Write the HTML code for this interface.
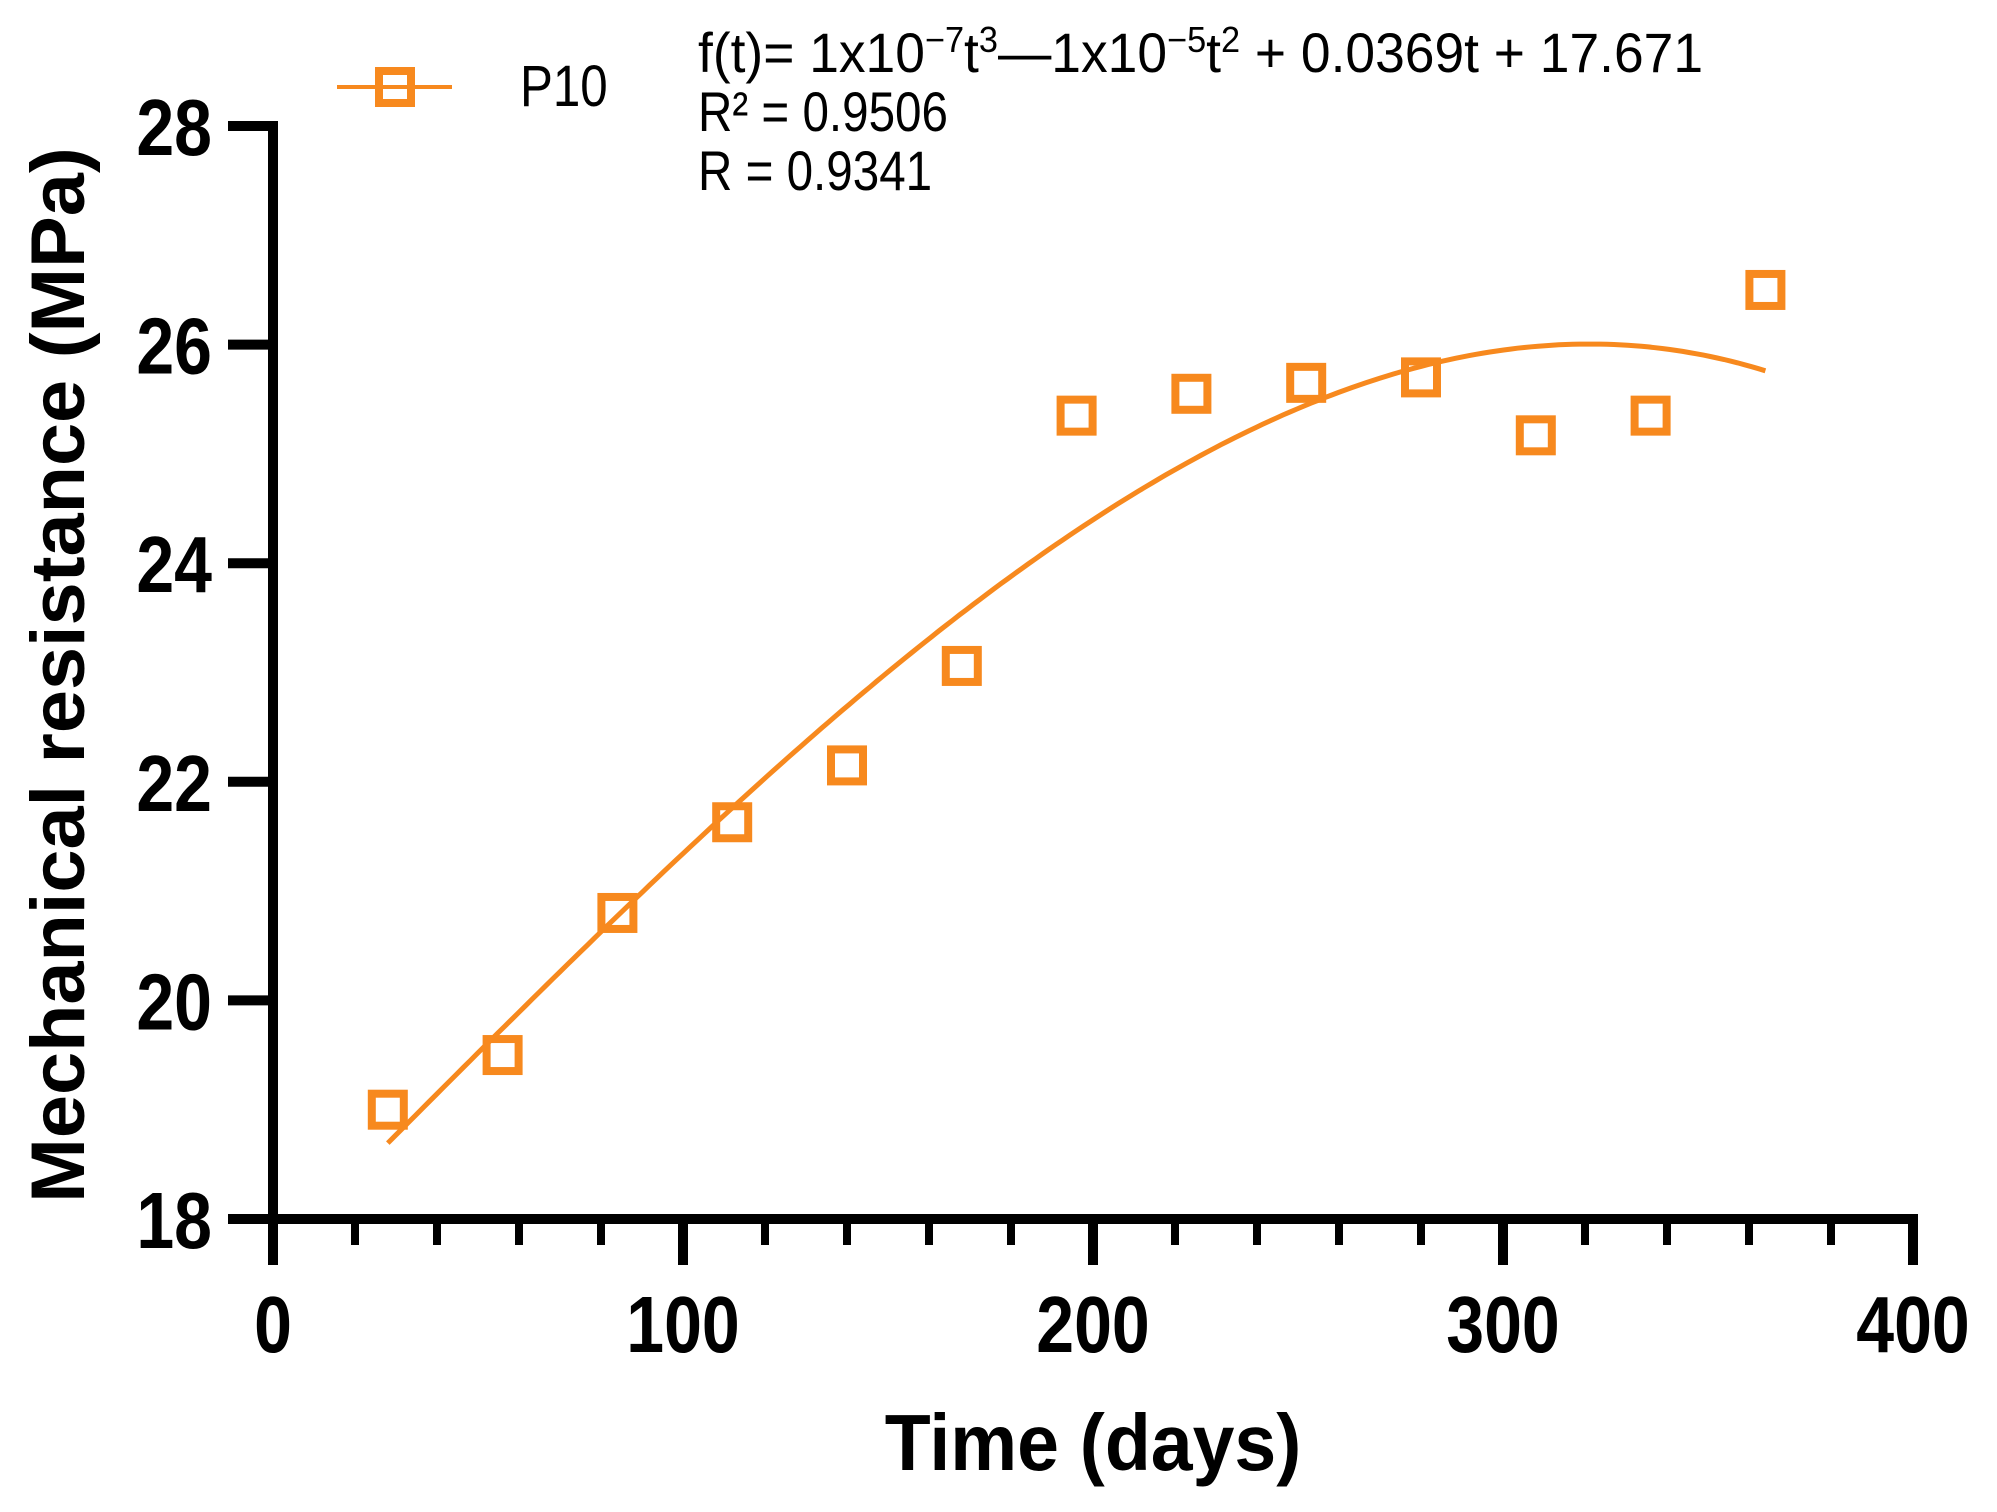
<!DOCTYPE html>
<html><head><meta charset="utf-8"><style>
html,body{margin:0;padding:0;background:#fff;}
svg{display:block;}
text{font-family:"Liberation Sans",Arial,sans-serif;}
</style></head><body>
<svg id="chart" width="1997" height="1512" viewBox="0 0 1997 1512" xmlns="http://www.w3.org/2000/svg">
<g id="axes"></g>
<g id="marks"></g>
<text transform="translate(1093,1470) scale(0.94,1)" font-size="80" font-weight="bold" text-anchor="middle">Time (days)</text>
<text transform="translate(84,675) rotate(-90) scale(1.02,1)" font-size="76" font-weight="bold" text-anchor="middle">Mechanical resistance (MPa)</text>
<g>
<line x1="337" y1="87" x2="452" y2="87" stroke="#F7891E" stroke-width="4"/>
<rect x="379" y="71" width="32" height="32" fill="none" stroke="#F7891E" stroke-width="8"/>
<text transform="translate(520,106) scale(0.85,1)" font-size="58">P10</text>
</g>
<g font-size="56">
<text x="698" y="72" textLength="1005" lengthAdjust="spacingAndGlyphs">f(t)= 1x10<tspan dy="-20" font-size="36">−7</tspan><tspan dy="20">t</tspan><tspan dy="-20" font-size="36">3</tspan><tspan dy="20">—1x10</tspan><tspan dy="-20" font-size="36">−5</tspan><tspan dy="20">t</tspan><tspan dy="-20" font-size="36">2</tspan><tspan dy="20"> + 0.0369t + 17.671</tspan></text>
<text transform="translate(698,131) scale(0.85,1)">R² = 0.9506</text>
<text transform="translate(698,190) scale(0.85,1)">R = 0.9341</text>
</g>
</svg>
<script>
const days = [28,56,84,112,140,168,196,224,252,280,308,336,364];
const resistance = [19.0,19.5,20.8,21.63,22.15,23.06,25.35,25.55,25.65,25.7,25.17,25.35,26.5];
const xTickLabels = [0,100,200,300,400];
const yTickLabels = [18,20,22,24,26,28];

const X0=273, X1=1913, Y0=1219, Y1=126;
const xMin=0,xMax=400,yMin=18,yMax=28;
function xs(v){return X0+(v-xMin)/(xMax-xMin)*(X1-X0);}
function ys(v){return Y0-(v-yMin)/(yMax-yMin)*(Y0-Y1);}
const NS="http://www.w3.org/2000/svg";
function mk(tag,attrs,parent){const e=document.createElementNS(NS,tag);for(const k in attrs)e.setAttribute(k,attrs[k]);parent.appendChild(e);return e;}
const axes=document.getElementById('axes'), marks=document.getElementById('marks');

let l=mk('line',{x1:X0,y1:Y1-5,x2:X0,y2:Y0+46,stroke:'#000','stroke-width':10},axes);


l=mk('line',{x1:X0-45,y1:Y0,x2:X1+5,y2:Y0,stroke:'#000','stroke-width':10},axes);



for(let v=0;v<=400;v+=20){
  const major=v%100===0;
  const t=mk('line',{x1:xs(v),y1:Y0,x2:xs(v),y2:Y0+(major?46:26),stroke:'#000','stroke-width':major?10:8},axes);
  
  
}
xTickLabels.forEach(v=>{
  const t=mk('text',{transform:'translate('+xs(v)+',1352) scale(0.85,1)','font-size':80,'font-weight':'bold','text-anchor':'middle'},axes);
  t.textContent=v;
  
  
});
yTickLabels.forEach(v=>{
  const t=mk('line',{x1:X0-45,y1:ys(v),x2:X0,y2:ys(v),stroke:'#000','stroke-width':10},axes);
  
  
  const s=mk('text',{transform:'translate(212,'+(ys(v)+29)+') scale(0.85,1)','font-size':80,'font-weight':'bold','text-anchor':'end'},axes);
  s.textContent=v;
  
  
});

function fit(xa,ya,deg){
  const n=deg+1,A=[],b=[];
  for(let i=0;i<n;i++){A.push(new Array(n).fill(0));b.push(0);}
  xa.forEach((x,k)=>{const s=x/100;for(let i=0;i<n;i++){for(let j=0;j<n;j++)A[i][j]+=Math.pow(s,i+j);b[i]+=ya[k]*Math.pow(s,i);}});
  for(let i=0;i<n;i++){let p=i;for(let r=i+1;r<n;r++)if(Math.abs(A[r][i])>Math.abs(A[p][i]))p=r;[A[i],A[p]]=[A[p],A[i]];[b[i],b[p]]=[b[p],b[i]];
    for(let r=0;r<n;r++){if(r===i)continue;const f=A[r][i]/A[i][i];for(let c=i;c<n;c++)A[r][c]-=f*A[i][c];b[r]-=f*b[i];}}
  return b.map((v,i)=>v/A[i][i]);
}
const co=fit(days,resistance,3);
function f(t){const s=t/100;return co[0]+co[1]*s+co[2]*s*s+co[3]*s*s*s;}
let d='';
const tMin=days[0],tMax=days[days.length-1];
for(let i=0;i<=200;i++){const t=tMin+(tMax-tMin)*i/200;d+=(i?'L':'M')+xs(t).toFixed(1)+','+ys(f(t)).toFixed(1);}
const p=mk('path',{d:d,fill:'none',stroke:'#F7891E','stroke-width':5},marks);



days.forEach((t,i)=>{
  const r=mk('rect',{x:xs(t)-16,y:ys(resistance[i])-16,width:32,height:32,fill:'none',stroke:'#F7891E','stroke-width':8},marks);
  
  
});
</script>
</body></html>
